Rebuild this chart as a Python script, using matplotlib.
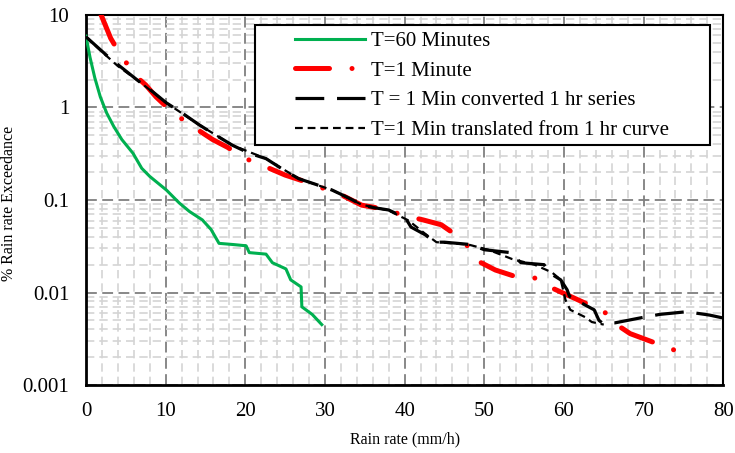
import numpy as np
import matplotlib
matplotlib.use("Agg")
import matplotlib.pyplot as plt
from matplotlib.patches import Rectangle
from matplotlib.ticker import MultipleLocator, LogLocator, FixedFormatter, FixedLocator

plt.rcParams['font.family'] = ['Liberation Serif', 'DejaVu Serif']

# T=60 Minutes
x60 = [0, 0.5, 1.1, 1.8, 2.6, 3.5, 4.5, 5.9, 7.0, 8.0, 10.1, 11.7, 13.0, 14.6, 15.7,
       16.7, 18.5, 20.1, 20.5, 22.6, 23.4, 25.1, 25.7, 27.0, 27.1, 28.4, 29.6]
y60 = [5.9, 3.5, 2.1, 1.3, 0.87, 0.62, 0.45, 0.32, 0.22, 0.18, 0.128, 0.093, 0.075, 0.061, 0.048,
       0.034, 0.033, 0.032, 0.027, 0.026, 0.021, 0.018, 0.0137, 0.0115, 0.007, 0.0058, 0.0045]

# T=1 Minute
x1 = [1.8, 3.1, 4.1, 6.2, 7.5, 8.8, 10.2, 12.5, 15.9, 17.8, 19.6, 21.5, 25.0, 27.6, 32.1,
      34.6, 38.0, 39.6, 42.3, 44.6, 46.6, 48.2, 49.2, 49.6, 51.4, 53.8, 56.3, 58.2, 62.5,
      64.8, 66.3, 68.3, 72.7, 75.0]
y1 = [10.5, 5.6, 4.0, 2.2, 1.75, 1.3, 1.0, 0.70, 0.45, 0.37, 0.29, 0.25, 0.186, 0.157, 0.113,
      0.088, 0.078, 0.069, 0.061, 0.054, 0.041, 0.030, 0.025, 0.021, 0.0175, 0.015, 0.0144, 0.0115, 0.0078,
      0.0066, 0.0047, 0.0036, 0.0026, 0.0022]

# T = 1 Min converted 1 hr series
xconv = [0, 3.0, 6.7, 8.5, 10.1, 12.0, 14.2, 16.0, 18.4, 20.5, 22.6, 24.5, 26.7, 28.8, 30.9,
         33.0, 34.6, 36.0, 38.0, 40.1, 40.8, 42.6, 43.8, 45.0, 48.3, 50.0, 53.3, 54.6, 57.5,
         58.2, 59.6, 60.4, 60.7, 62.7, 63.8, 64.4, 64.8, 66.4, 69.5, 72.0, 75.4, 78.3, 80.0]
yconv = [5.8, 3.4, 1.9, 1.45, 1.12, 0.88, 0.65, 0.52, 0.39, 0.32, 0.28, 0.22, 0.17, 0.148, 0.128,
         0.105, 0.089, 0.083, 0.078, 0.064, 0.051, 0.042, 0.035, 0.035, 0.033, 0.029, 0.027, 0.021, 0.020,
         0.0163, 0.0137, 0.0107, 0.0091, 0.0073, 0.0065, 0.005, 0.0047, 0.0047, 0.0053, 0.0058, 0.0062, 0.0057, 0.0053]

# T=1 Min translated from 1 hr curve
xtr = [0, 2, 4, 6.7, 10.1, 14.2, 18.4, 22.6, 26.7, 30.9, 34.6, 38.0, 40.5, 42.6, 44.0,
       48.0, 50.5, 53.5, 56.3, 58.5, 59.6, 60.2, 60.8, 62.7, 63.5, 65.0]
ytr = [5.8, 4.0, 2.8, 1.9, 1.12, 0.65, 0.39, 0.28, 0.17, 0.128, 0.089, 0.077, 0.06, 0.043, 0.035,
       0.033, 0.029, 0.023, 0.020, 0.0165, 0.0137, 0.0083, 0.0065, 0.0054, 0.0048, 0.0045]

fig = plt.figure(figsize=(7.35, 4.53), dpi=100)
ax = fig.add_axes([0.117, 0.150, 0.867, 0.817])

ax.plot(x60, y60, color='#00b050', lw=2.2, label='T=60 Minutes', zorder=3)
ax.plot(x1, y1, color='#ff0000', lw=3.6, linestyle=(0, (6.8, 4.5, 0.01, 4.5)),
        dash_capstyle='round', label='T=1 Minute', zorder=4)
ax.plot(xconv, yconv, color='black', lw=2.3, linestyle=(0, (9, 4)),
        label='T = 1 Min converted 1 hr series', zorder=5)
ax.plot(xtr, ytr, color='black', lw=1.6, linestyle=(0, (3.5, 2.2)),
        label='T=1 Min translated from 1 hr curve', zorder=5)

ax.set_yscale('log')
ax.set_xlim(0, 80)
ax.set_ylim(0.001, 10)
ax.xaxis.set_major_locator(MultipleLocator(10))
ax.xaxis.set_minor_locator(MultipleLocator(2))
ax.yaxis.set_major_locator(FixedLocator([0.001, 0.01, 0.1, 1, 10]))
ax.yaxis.set_major_formatter(FixedFormatter(['0.001', '0.01', '0.1', '1', '10']))
ax.yaxis.set_minor_locator(LogLocator(base=10, subs=np.arange(2, 10)))
ax.yaxis.set_minor_formatter(plt.NullFormatter())

ax.grid(which='minor', color='#d4d4d4', lw=1.2, linestyle=(0, (5, 3)))
ax.grid(which='major', color='#7f7f7f', lw=1.3, linestyle=(0, (6, 3)))
ax.set_axisbelow(True)

ax.tick_params(which='both', length=0)
ax.tick_params(axis='x', labelsize=15, pad=12)
ax.tick_params(axis='y', labelsize=15, pad=12)

for side in ['left', 'bottom']:
    ax.spines[side].set_linewidth(2.0)
for side in ['top', 'right']:
    ax.spines[side].set_linewidth(1.5)

ax.set_xlabel('Rain rate (mm/h)', fontsize=11.5, labelpad=8)
ax.set_ylabel('% Rain rate Exceedance', fontsize=11.5)
ax.yaxis.set_label_coords(-0.108, 0.49)

# legend box drawn separately, like the wide Excel legend frame
ax.add_patch(Rectangle((0.265, 0.649), 0.715, 0.324, transform=ax.transAxes,
                       facecolor='white', edgecolor='black', lw=1.5, zorder=6))
leg = ax.legend(loc='center left', bbox_to_anchor=(0.311, 0.809), fontsize=15,
                frameon=False, handlelength=3.36, labelspacing=0.48, borderpad=0,
                handletextpad=0.33)
leg.set_zorder(7)

plt.savefig('out.png', dpi=100)
